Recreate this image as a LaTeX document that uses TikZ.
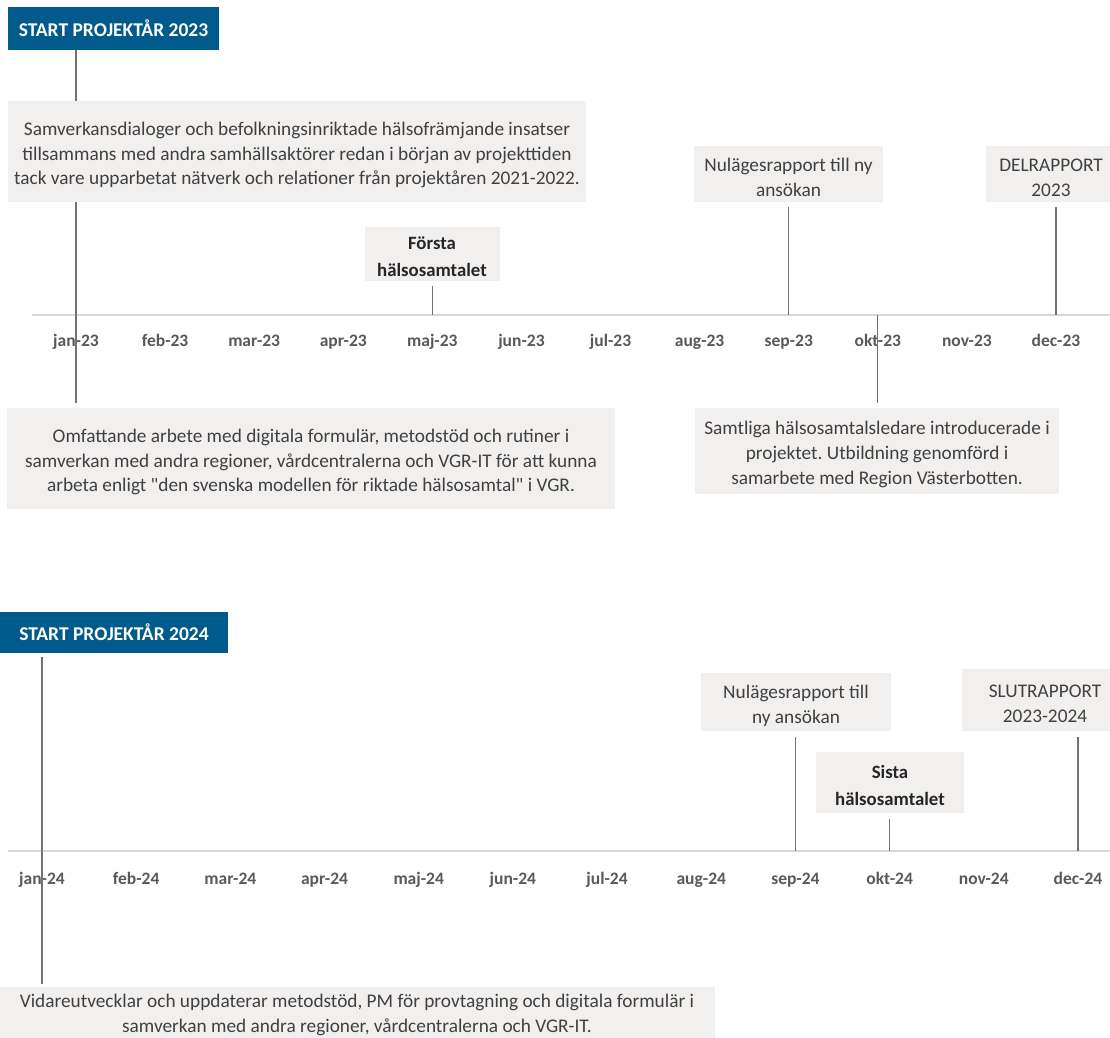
\documentclass[tikz,border=0pt]{standalone}
\usepackage{fontspec}
\setmainfont{Carlito}[Ligatures=TeXOff]
\frenchspacing
\definecolor{titleblue}{RGB}{0,90,139}
\definecolor{boxgray}{RGB}{242,240,239}
\definecolor{txtgray}{RGB}{64,64,64}
\definecolor{monthgray}{RGB}{89,89,89}
\definecolor{linegray}{RGB}{115,115,115}
\definecolor{axisgray}{RGB}{217,217,217}
\tikzset{
  gbox/.style={fill=boxgray, inner sep=0pt},
  gtext/.style={text=txtgray, align=center, inner sep=0pt, yshift=-3.5pt,
    font=\fontsize{19.3}{24.8}\selectfont},
  btext/.style={text=black!85, align=center, inner sep=0pt, yshift=-3pt,
    font=\bfseries\fontsize{18.8}{26.5}\selectfont},
  tbox/.style={fill=titleblue, text=white, inner sep=0pt,
    font=\bfseries\fontsize{19.5}{22}\selectfont},
  conn/.style={draw=linegray, line width=1.3pt},
  axisline/.style={draw=axisgray, line width=2pt},
  mlabel/.style={text=monthgray, inner sep=0pt, anchor=base,
    font=\bfseries\fontsize{17.5}{20}\selectfont}
}
\begin{document}
\begin{tikzpicture}[x=1pt,y=-1pt]
\useasboundingbox (0,0) rectangle (1110,1037);
\clip (0,0) rectangle (1110,1037);
\fill[white] (0,0) rectangle (1110,1037);

% ---------- 2023 ----------
\coordinate (axAl) at (32,315);
\coordinate (axAr) at (1110,315);
\draw[axisline] (axAl) -- (axAr);
\foreach \m [count=\i] in {jan,feb,mar,apr,maj,jun,jul,aug,sep,okt,nov,dec}
  \node[mlabel] (ma\i) at ({76+89.09*(\i-1)},346.5) {\m-23};

\node[tbox, minimum width=211, minimum height=43] (tA) at (113.5,28.5) {START PROJEKTÅR 2023};
\node[gbox, minimum width=578, minimum height=101, label={[gtext]center:{%
   Samverkansdialoger och befolkningsinriktade hälsofrämjande insatser\\
   tillsammans med andra samhällsaktörer redan i början av projekttiden\\
   tack vare upparbetat nätverk och relationer från projektåren 2021-2022.}}] (samv) at (297,151.5) {};
\node[gbox, minimum width=189, minimum height=56,
  label={[gtext]center:{Nulägesrapport till ny\\ ansökan}}] (nulA) at (788.5,174) {};
\node[gbox, minimum width=130, minimum height=56,
  label={[gtext]center:{DELRAPPORT\\ 2023}}] (del) at (1051,174) {};
\node[gbox, minimum width=135, minimum height=54,
  label={[btext]center:{Första\\ hälsosamtalet}}] (forsta) at (432,253.5) {};
\node[gbox, minimum width=608, minimum height=101, label={[gtext]center:{%
   Omfattande arbete med digitala formulär, metodstöd och rutiner i\\
   samverkan med andra regioner, vårdcentralerna och VGR-IT för att kunna\\
   arbeta enligt "den svenska modellen för riktade hälsosamtal" i VGR.}}] (omf) at (311,458.5) {};
\node[gbox, minimum width=364, minimum height=86, label={[gtext]center:{%
   Samtliga hälsosamtalsledare introducerade i\\
   projektet. Utbildning genomförd i\\
   samarbete med Region Västerbotten.}}] (saml) at (877,451) {};

\draw[conn] (ma1 |- tA.south) -- (ma1 |- samv.north);
\draw[conn, shorten >=5pt] (ma1 |- samv.south) -- (ma1 |- omf.north);
\draw[conn, shorten <=5pt] (ma9 |- nulA.south) -- (ma9 |- axAl);
\draw[conn, shorten <=5pt] (ma12 |- del.south) -- (ma12 |- axAl);
\draw[conn, shorten <=5pt] (ma5 |- forsta.south) -- (ma5 |- axAl);
\draw[conn, shorten >=5pt] (ma10 |- axAl) -- (ma10 |- saml.north);

% ---------- 2024 ----------
\coordinate (axBl) at (8,851);
\coordinate (axBr) at (1110,851);
\draw[axisline] (axBl) -- (axBr);
\foreach \m [count=\i] in {jan,feb,mar,apr,maj,jun,jul,aug,sep,okt,nov,dec}
  \node[mlabel] (mb\i) at ({42+94.18*(\i-1)},884.5) {\m-24};

\node[tbox, minimum width=228, minimum height=41] (tB) at (114,632.5) {START PROJEKTÅR 2024};
\node[gbox, minimum width=190, minimum height=58,
  label={[gtext]center:{Nulägesrapport till\\ ny ansökan}}] (nulB) at (796,702) {};
\node[gbox, minimum width=166, minimum height=62,
  label={[gtext]center:{SLUTRAPPORT\\ 2023-2024}}] (slut) at (1045,700) {};
\node[gbox, minimum width=148, minimum height=61,
  label={[btext]center:{Sista\\ hälsosamtalet}}] (sista) at (890,782.5) {};
\node[gbox, minimum width=716, minimum height=55, label={[gtext, yshift=3pt]center:{%
   Vidareutvecklar och uppdaterar metodstöd, PM för provtagning och digitala formulär i\\
   samverkan med andra regioner, vårdcentralerna och VGR-IT.}}] (vid) at (357,1014.5) {};

\draw[conn, shorten <=4pt, shorten >=3pt] (mb1 |- tB.south) -- (mb1 |- vid.north);
\draw[conn, shorten <=6pt] (mb9 |- nulB.south) -- (mb9 |- axBl);
\draw[conn, shorten <=6pt] (mb12 |- slut.south) -- (mb12 |- axBl);
\draw[conn, shorten <=6pt] (mb10 |- sista.south) -- (mb10 |- axBl);
\end{tikzpicture}
\end{document}
